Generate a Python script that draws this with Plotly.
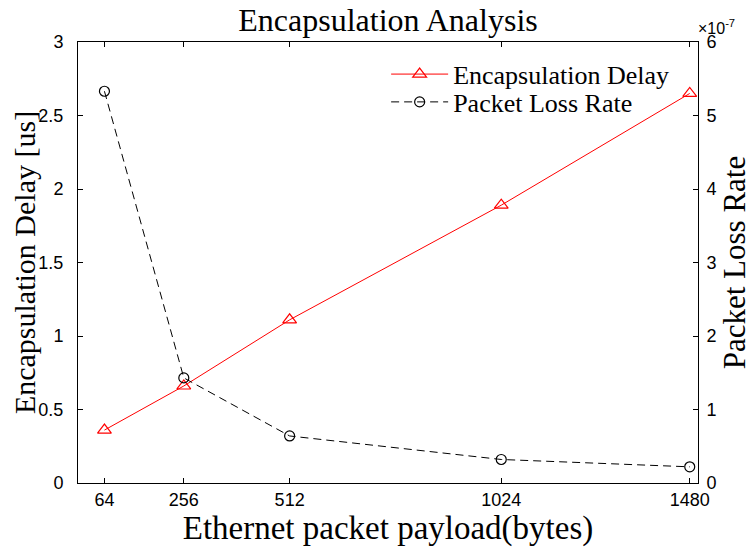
import plotly.graph_objects as go

payload = [64, 256, 512, 1024, 1480]
delay_us = [0.36, 0.66, 1.11, 1.89, 2.65]
loss_rate = [5.33e-7, 1.43e-7, 0.64e-7, 0.32e-7, 0.22e-7]

x_ticks = [64, 256, 512, 1024, 1480]
y2_tickvals = [0, 1e-7, 2e-7, 3e-7, 4e-7, 5e-7, 6e-7]
y2_ticktext = ["0", "1", "2", "3", "4", "5", "6"]

serif = "Liberation Serif, Times New Roman, serif"
sans = "Liberation Sans, Arial, sans-serif"

W, H = 747, 541  # page body has an 8px margin

fig = go.Figure()
fig.add_trace(go.Scatter(
    x=payload, y=delay_us, name="Encapsulation Delay", mode="lines+markers",
    line=dict(color="#ff0000", width=1), legend="legend",
    marker=dict(symbol="triangle-up-open", size=12, color="#ff0000", line=dict(width=1.2)),
))
fig.add_trace(go.Scatter(
    x=payload, y=loss_rate, name="Packet Loss Rate", mode="lines+markers", yaxis="y2",
    line=dict(color="#000000", width=1, dash="8px,5px"), legend="legend2",
    marker=dict(symbol="circle-open", size=10, color="#000000", line=dict(width=1.2)),
))

legend_common = dict(x=0.497, xanchor="left", yanchor="middle", bgcolor="rgba(0,0,0,0)",
                     font=dict(family=serif, size=26, color="#000"), itemwidth=57)

fig.update_layout(
    width=W, height=H,
    margin=dict(l=70, r=57, t=34, b=66),
    paper_bgcolor="white", plot_bgcolor="white",
    showlegend=True,
    title=dict(text="Encapsulation Analysis", x=0.5, xref="paper", xanchor="center",
               y=1 - 12 / H, yref="container", yanchor="middle",
               font=dict(family=serif, size=32, color="#000")),
    xaxis=dict(range=[0, 1500], tickvals=x_ticks, ticks="inside", ticklen=5, tickcolor="#000",
               showline=True, linecolor="#000", linewidth=1, mirror="ticks", showgrid=False,
               zeroline=False, automargin=False, ticklabelstandoff=0,
               tickfont=dict(family=sans, size=18, color="#000"),
               title=dict(text="Ethernet packet payload(bytes)", standoff=1,
                          font=dict(family=serif, size=33, color="#000"))),
    yaxis=dict(range=[0, 3], dtick=0.5, ticks="inside", ticklen=5, tickcolor="#000",
               showline=True, linecolor="#000", linewidth=1, showgrid=False, zeroline=False,
               automargin=False, ticklabelstandoff=10,
               tickfont=dict(family=sans, size=18, color="#000"),
               title=dict(text="Encapsulation Delay [us]", standoff=0,
                          font=dict(family=serif, size=30, color="#000"))),
    yaxis2=dict(range=[0, 6e-7], tickvals=y2_tickvals, ticktext=y2_ticktext, overlaying="y",
                side="right", ticks="inside", ticklen=5, tickcolor="#000",
                showline=True, linecolor="#000", linewidth=1, showgrid=False, zeroline=False,
                automargin=False, ticklabelstandoff=4,
                tickfont=dict(family=sans, size=18, color="#000"),
                title=dict(text="Packet Loss Rate", standoff=1,
                           font=dict(family=serif, size=31, color="#000"))),
    legend=dict(y=0.927, **legend_common),
    legend2=dict(y=0.864, **legend_common),
    annotations=[dict(text="×10<sup>-7</sup>", x=1.0, xref="paper", y=1.0, yref="paper",
                      xanchor="left", yanchor="bottom", showarrow=False, xshift=-2, yshift=3,
                      font=dict(family=sans, size=16, color="#000"))],
)

fig.write_html("out.html")
